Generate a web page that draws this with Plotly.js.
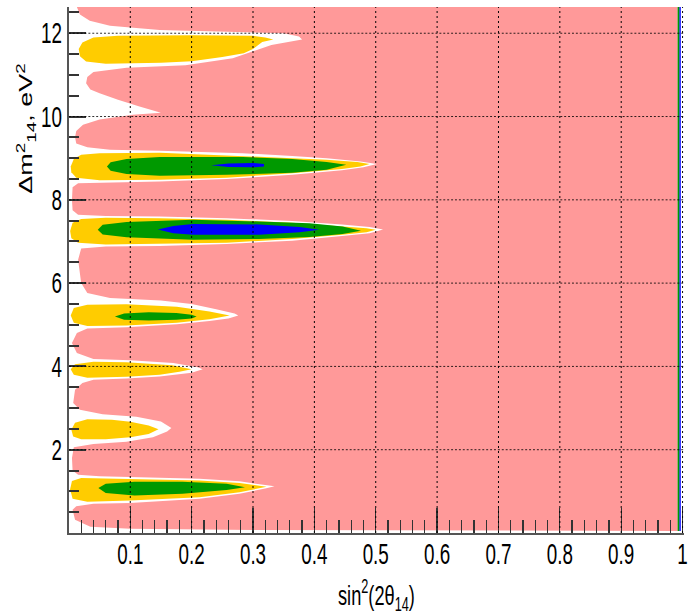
<!DOCTYPE html>
<html>
<head>
<meta charset="utf-8">
<script src="https://cdn.plot.ly/plotly-3.0.1.min.js"></script>
<style>
html,body{margin:0;padding:0;background:#fff;overflow:hidden;}
#wrap{width:689px;height:614px;overflow:hidden;position:relative;}
#plot{width:1060px;height:614px;transform:scaleX(0.65);transform-origin:0 0;}
</style>
</head>
<body>
<div id="wrap"><div id="plot"></div></div>
<script>
// ---- data (sin^2(2theta14), dm^2_14 [eV^2]) ----
const xTickVals = [0.1,0.2,0.3,0.4,0.5,0.6,0.7,0.8,0.9,1.0];
const xTickText = ['0.1','0.2','0.3','0.4','0.5','0.6','0.7','0.8','0.9','1'];
const yTickVals = [2,4,6,8,10,12];
const yTickText = ['2','4','6','8','10','12'];

// pink excluded region (left boundary traced top to bottom, then right edge)
const pinkRegion = [[0.013,12.63],[0.018,12.45],[0.034,12.3],[0.067,12.18],[0.148,12.08],[0.28,12.03],[0.35,12.0],[0.375,11.92],[0.38,11.85],[0.33,11.72],[0.29,11.52],[0.267,11.4],[0.19,11.23],[0.094,11.17],[0.04,11.07],[0.03,10.95],[0.028,10.8],[0.035,10.65],[0.05,10.56],[0.08,10.4],[0.115,10.24],[0.143,10.13],[0.15,10.09],[0.104,10.04],[0.05,9.93],[0.023,9.8],[0.012,9.65],[0.01,9.5],[0.012,9.35],[0.03,9.26],[0.067,9.2],[0.148,9.18],[0.283,9.12],[0.364,9.05],[0.42,9.0],[0.475,8.92],[0.502,8.86],[0.48,8.78],[0.445,8.71],[0.364,8.6],[0.257,8.5],[0.148,8.44],[0.05,8.42],[0.015,8.4],[0.006,8.3],[0.005,8.0],[0.006,7.75],[0.015,7.64],[0.06,7.61],[0.148,7.6],[0.257,7.56],[0.364,7.49],[0.445,7.41],[0.49,7.35],[0.512,7.29],[0.49,7.2],[0.445,7.13],[0.364,7.02],[0.257,6.94],[0.148,6.89],[0.06,6.88],[0.02,6.83],[0.015,6.56],[0.02,6.0],[0.03,5.76],[0.067,5.64],[0.15,5.58],[0.2,5.5],[0.24,5.37],[0.27,5.27],[0.276,5.22],[0.26,5.15],[0.229,5.09],[0.176,5.01],[0.094,4.94],[0.03,4.91],[0.013,4.8],[0.005,4.56],[0.013,4.32],[0.04,4.18],[0.1,4.15],[0.17,4.08],[0.21,3.98],[0.218,3.93],[0.2,3.85],[0.148,3.76],[0.094,3.71],[0.04,3.68],[0.022,3.6],[0.01,3.44],[0.007,3.12],[0.018,2.96],[0.055,2.85],[0.11,2.79],[0.15,2.68],[0.167,2.52],[0.16,2.44],[0.137,2.3],[0.094,2.19],[0.04,2.14],[0.008,2.06],[0.005,1.8],[0.006,1.5],[0.015,1.4],[0.05,1.36],[0.1,1.34],[0.213,1.3],[0.278,1.24],[0.32,1.16],[0.335,1.12],[0.32,1.07],[0.278,0.94],[0.213,0.82],[0.1,0.72],[0.04,0.7],[0.012,0.64],[0.006,0.56],[0.01,0.32],[0.035,0.15],[0.1,0.1],[0.3,0.07],[0.992,0.05],[0.992,12.63]];

// yellow allowed islands
const yellow117 = [[0.016,11.62],[0.022,11.78],[0.04,11.9],[0.08,11.94],[0.2,11.95],[0.3,11.94],[0.32,11.9],[0.333,11.85],[0.315,11.79],[0.3,11.62],[0.285,11.52],[0.25,11.43],[0.2,11.33],[0.15,11.29],[0.06,11.27],[0.028,11.32],[0.018,11.45]];
const yellow88 = [[0.003,8.8],[0.008,8.98],[0.02,9.08],[0.05,9.12],[0.148,9.13],[0.257,9.07],[0.364,9.0],[0.42,8.96],[0.47,8.91],[0.49,8.86],[0.475,8.8],[0.445,8.74],[0.364,8.64],[0.257,8.53],[0.148,8.48],[0.05,8.47],[0.012,8.53],[0.004,8.66]];
const yellow72 = [[0.002,7.25],[0.006,7.45],[0.02,7.54],[0.06,7.57],[0.148,7.56],[0.257,7.52],[0.364,7.45],[0.445,7.37],[0.485,7.32],[0.5,7.28],[0.485,7.22],[0.445,7.16],[0.364,7.06],[0.257,6.97],[0.148,6.94],[0.06,6.93],[0.015,6.97],[0.004,7.08]];
const yellow52 = [[0.003,5.22],[0.008,5.4],[0.03,5.48],[0.094,5.49],[0.176,5.43],[0.229,5.32],[0.262,5.22],[0.229,5.13],[0.176,5.05],[0.094,4.98],[0.03,4.97],[0.008,5.05]];
const yellow39 = [[0.003,3.93],[0.01,4.05],[0.04,4.11],[0.094,4.1],[0.168,4.03],[0.2,3.93],[0.18,3.87],[0.148,3.8],[0.094,3.75],[0.03,3.73],[0.008,3.8]];
const yellow25 = [[0.004,2.48],[0.01,2.65],[0.03,2.73],[0.07,2.72],[0.1,2.67],[0.13,2.58],[0.146,2.49],[0.13,2.38],[0.1,2.3],[0.06,2.25],[0.02,2.25],[0.007,2.32]];
const yellow10 = [[0.002,1.05],[0.005,1.25],[0.02,1.32],[0.1,1.3],[0.213,1.26],[0.278,1.2],[0.322,1.11],[0.278,0.98],[0.213,0.86],[0.1,0.78],[0.03,0.75],[0.006,0.82]];

// green allowed islands
const green88 = [[0.062,8.8],[0.068,8.9],[0.094,8.98],[0.148,9.03],[0.283,9.03],[0.364,8.98],[0.42,8.91],[0.452,8.84],[0.42,8.72],[0.364,8.65],[0.257,8.6],[0.148,8.58],[0.094,8.62],[0.068,8.7]];
const green72 = [[0.047,7.28],[0.055,7.4],[0.094,7.47],[0.202,7.52],[0.31,7.48],[0.392,7.44],[0.446,7.36],[0.476,7.26],[0.446,7.18],[0.392,7.11],[0.31,7.06],[0.202,7.04],[0.094,7.1],[0.055,7.17]];
const green52 = [[0.075,5.2],[0.09,5.27],[0.13,5.3],[0.175,5.28],[0.2,5.24],[0.208,5.2],[0.2,5.15],[0.175,5.12],[0.13,5.1],[0.09,5.12]];
const green10 = [[0.048,1.08],[0.06,1.18],[0.107,1.23],[0.185,1.23],[0.257,1.18],[0.287,1.1],[0.257,1.03],[0.185,0.94],[0.107,0.9],[0.06,0.96]];

// blue allowed islands
const blue88 = [[0.232,8.83],[0.26,8.87],[0.3,8.885],[0.318,8.86],[0.318,8.8],[0.3,8.78],[0.26,8.79]];
const blue72 = [[0.145,7.29],[0.17,7.37],[0.202,7.42],[0.31,7.41],[0.376,7.35],[0.408,7.28],[0.376,7.22],[0.31,7.16],[0.202,7.16],[0.17,7.2]];

// contour edges near sin^2 = 1
const greenEdgeX = [0.9935,0.9935], greenEdgeY = [0.05,12.63];
const blueEdgeX = [0.996,0.996], blueEdgeY = [0.05,12.63];

// ---- build ----
const PINK='#ff9999', YELLOW='#ffcc00', GREEN='#009900', BLUE='#0000ff';
function poly(pts, color){
  return {type:'scatter', mode:'lines', x: pts.map(p=>p[0]), y: pts.map(p=>p[1]),
    fill:'toself', fillcolor: color, line:{width:0, color: color},
    hoverinfo:'skip', showlegend:false};
}
const traces = [
  poly(pinkRegion, PINK),
  poly(yellow117, YELLOW), poly(yellow88, YELLOW), poly(yellow72, YELLOW), poly(yellow52, YELLOW),
  poly(yellow39, YELLOW), poly(yellow25, YELLOW), poly(yellow10, YELLOW),
  poly(green88, GREEN), poly(green72, GREEN), poly(green52, GREEN), poly(green10, GREEN),
  poly(blue88, BLUE), poly(blue72, BLUE),
  {type:'scatter', mode:'lines', x: greenEdgeX, y: greenEdgeY, line:{color:GREEN, width:3}, hoverinfo:'skip', showlegend:false},
  {type:'scatter', mode:'lines', x: blueEdgeX, y: blueEdgeY, line:{color:BLUE, width:2}, hoverinfo:'skip', showlegend:false}
];

const shapes = [];
xTickVals.forEach(v => shapes.push({type:'line', xref:'x', yref:'paper', x0:v, x1:v, y0:0, y1:1,
  layer:'above', line:{color:'#000', width:1.5, dash:'2px,3px'}}));
yTickVals.forEach(v => shapes.push({type:'line', xref:'paper', yref:'y', x0:0, x1:1, y0:v, y1:v,
  layer:'above', line:{color:'#000', width:1, dash:'3px,3px'}}));

const FONT = '"Liberation Sans", Arial, Helvetica, sans-serif';
const layout = {
  width:1060, height:614,
  margin:{l:106, r:8, t:7, b:81, pad:0},
  paper_bgcolor:'#fff', plot_bgcolor:'#fff',
  font:{family:FONT, color:'#000'},
  showlegend:false,
  xaxis:{range:[0,1.002], tickmode:'array', tickvals:xTickVals, ticktext:xTickText,
    ticks:'inside', ticklen:25, tickwidth:2, tickcolor:'#333',
    minor:{tickmode:'linear', tick0:0, dtick:0.02, ticks:'inside', ticklen:13, tickwidth:2, tickcolor:'#333', showgrid:false},
    showgrid:false, zeroline:false, showline:true, linecolor:'#555', linewidth:2,
    tickfont:{family:FONT, size:29, color:'#000'}, ticklabelstandoff:-6, layer:'above traces', fixedrange:true},
  yaxis:{range:[0,12.63], tickmode:'array', tickvals:yTickVals, ticktext:yTickText,
    ticks:'inside', ticklen:26, tickwidth:2, tickcolor:'#333',
    minor:{tickmode:'linear', tick0:0, dtick:0.5, ticks:'inside', ticklen:15, tickwidth:2, tickcolor:'#333', showgrid:false},
    showgrid:false, zeroline:false, showline:true, linecolor:'#555', linewidth:3,
    tickfont:{family:FONT, size:29, color:'#000'}, ticklabelstandoff:2, layer:'above traces', fixedrange:true},
  shapes: shapes,
  annotations:[
    {text:'sin<sup>2</sup>(2θ<sub>14</sub>)', xref:'paper', yref:'paper', x:0.5, y:-0.118,
     xanchor:'center', yanchor:'middle', showarrow:false, font:{family:FONT, size:28, color:'#000'}},
    {text:'Δm<sup>2</sup><sub>14</sub>, eV<sup>2</sup>', xref:'paper', yref:'paper', x:-0.07, y:0.77,
     xanchor:'center', yanchor:'middle', textangle:-90, showarrow:false, font:{family:FONT, size:27, color:'#000'}}
  ]
};
Plotly.newPlot('plot', traces, layout, {staticPlot:true, displayModeBar:false, responsive:false});
</script>
</body>
</html>
